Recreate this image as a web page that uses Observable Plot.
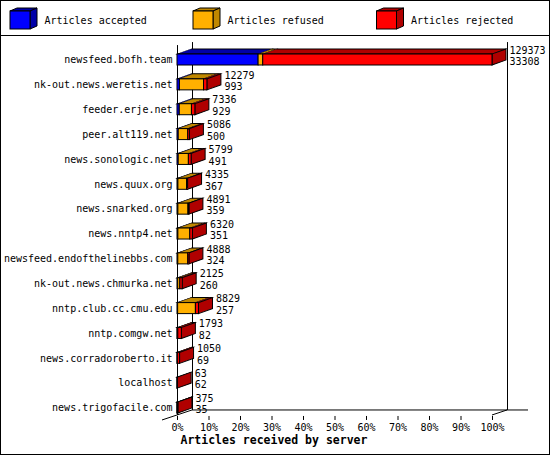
<!DOCTYPE html>
<html><head><meta charset="utf-8">
<script src="https://cdn.jsdelivr.net/npm/d3@7"></script>
<script src="https://cdn.jsdelivr.net/npm/@observablehq/plot@0.6"></script>
<style>
html,body{margin:0;padding:0;background:#fff;}
#wrap{position:relative;width:550px;height:455px;overflow:hidden;background:#fff;font-family:'DejaVu Sans Mono',monospace;}
#border{position:absolute;left:0;top:0;width:550px;height:455px;box-sizing:border-box;border:1px solid #000;pointer-events:none;}
#legend{display:block;}
#chart svg{display:block;}
</style></head><body>
<div id="wrap"><svg id="legend" width="550" height="36"></svg><div id="chart"></div><div id="border"></div></div>
<script>
// ---- data ----
const servers = ["newsfeed.bofh.team","nk-out.news.weretis.net","feeder.erje.net","peer.alt119.net","news.sonologic.net","news.quux.org","news.snarked.org","news.nntp4.net","newsfeed.endofthelinebbs.com","nk-out.news.chmurka.net","nntp.club.cc.cmu.edu","nntp.comgw.net","news.corradoroberto.it","localhost","news.trigofacile.com"];
const totals   = [129373,12279,7336,5086,5799,4335,4891,6320,4888,2125,8829,1793,1050,63,375];
const accepted = [33308,993,929,500,491,367,359,351,324,260,257,82,69,62,35];
const refused  = [1900,9900,5000,3900,4180,3550,4150,4900,4100,900,7300,250,80,0,20];
const rejected = [94165,1386,1407,686,1128,418,382,1069,464,965,1272,1461,901,1,320];
const xTicks = [0,10,20,30,40,50,60,70,80,90,100];
const seriesNames = ["Articles accepted","Articles refused","Articles rejected"];
const frontColors = ["#0000ff","#ffb000","#ff0000"];
const darkColors  = ["#0000a8","#c08800","#b00000"];
const axisTitle = "Articles received by server";

// ---- legend ----
const lg = d3.select("#legend");
const legendX = [10, 193, 376.5];
seriesNames.forEach((name, k) => {
  const x = legendX[k], y = 11, w = 20, h = 18, dx = 7, dy = 3;
  lg.append("polygon").attr("points", `${x},${y} ${x+w},${y} ${x+w+dx},${y-dy} ${x+dx},${y-dy}`)
    .attr("fill", darkColors[k]).attr("stroke", "#000");
  lg.append("polygon").attr("points", `${x+w},${y} ${x+w+dx},${y-dy} ${x+w+dx},${y+h-dy} ${x+w},${y+h}`)
    .attr("fill", darkColors[k]).attr("stroke", "#000");
  lg.append("rect").attr("x", x).attr("y", y).attr("width", w).attr("height", h)
    .attr("fill", frontColors[k]).attr("stroke", "#000");
  lg.append("text").attr("x", x + 34.5).attr("y", 21).attr("dominant-baseline", "middle")
    .attr("font-family", "'DejaVu Sans Mono', monospace").attr("font-size", 10).text(name);
});
lg.append("line").attr("x1", 0).attr("x2", 550).attr("y1", 35.5).attr("y2", 35.5).attr("stroke", "#000");

// ---- derived tables ----
const maxTotal = d3.max(totals);
const pct = v => v / maxTotal * 100;
const segments = [];
servers.forEach((s, i) => {
  const parts = [accepted[i], refused[i], rejected[i]];
  let acc = 0;
  parts.forEach((v, k) => {
    if (v > 0) segments.push({server: s, x1: pct(acc), x2: pct(acc + v), k});
    acc += v;
  });
});
const rows = servers.map((s, i) => ({server: s, total: totals[i], accepted: accepted[i], p: pct(totals[i]),
  last: rejected[i] > 0 ? 2 : (refused[i] > 0 ? 1 : 0)}));

// ---- geometry ----
const H = 419;
const bandTop = 11.07, bandBottom = 383.97;
const step = (bandBottom - bandTop) / servers.length;
const faceH = 11, depthX = 14, depthY = 5;
const inset = (step - faceH) / 2;

function floorLines(index, scales, values, dims) {
  const x = scales.x;
  const yb = dims.height - dims.marginBottom - 5;
  const x0 = x(xTicks[0]), x1 = x(xTicks[xTicks.length - 1]);
  const g = d3.create("svg:g").attr("stroke", "#000").attr("fill", "none");
  g.append("line").attr("x1", x0 + 15).attr("y1", yb - 5).attr("x2", x1 + 36).attr("y2", yb - 5);
  g.append("line").attr("x1", x0 - 15).attr("y1", yb + 5).attr("x2", x0 + 15).attr("y2", yb - 5);
  g.append("line").attr("x1", x1).attr("y1", yb).attr("x2", x1 + 15).attr("y2", yb - 5);
  return g.node();
}

const chart = Plot.plot({
  width: 550, height: H,
  marginLeft: 177, marginRight: 58, marginTop: bandTop, marginBottom: H - bandBottom,
  style: {fontFamily: "'DejaVu Sans Mono', monospace", fontSize: "10px", background: "#fff", color: "#000", overflow: "visible"},
  x: {domain: [0, 100]},
  y: {type: "band", domain: servers, padding: 0, paddingInner: 0, paddingOuter: 0, align: 0.5, round: false},
  marks: [
    Plot.ruleX([xTicks[0], xTicks[xTicks.length - 1]], {dx: 15, dy: -5, insetBottom: 5, stroke: "#000"}),
    floorLines,
    Plot.ruleX([xTicks[0]], {stroke: "#000", insetTop: -2, insetBottom: 5}),
    Plot.axisY({tickSize: 0, tickPadding: 5, label: null}),
    Plot.axisX({ticks: xTicks, tickFormat: d => d + "%", tickSize: 4, tickPadding: 3, label: null, dy: -4}),
    Plot.text([axisTitle], {frameAnchor: "bottom-left", text: d => d, dx: 3, dy: 24, textAnchor: "start", fontWeight: "bold", fontSize: 11.5}),
    Plot.barX(segments, {x1: "x1", x2: "x2", y: "server", fill: d => darkColors[d.k], stroke: "#000",
      insetTop: inset - depthY, insetBottom: step - inset}),
    Plot.barX(rows, {x1: "p", x2: "p", y: "server", fill: d => darkColors[d.last], stroke: "#000",
      insetTop: inset, insetBottom: inset, insetLeft: 0, insetRight: -depthX}),
    Plot.barX(segments, {x1: "x1", x2: "x2", y: "server", fill: d => frontColors[d.k], stroke: "#000",
      insetTop: inset, insetBottom: inset}),
    Plot.text(rows, {x: "p", y: "server", text: d => String(d.total), dx: depthX + 3, dy: -9.5, textAnchor: "start", fill: "#000"}),
    Plot.text(rows, {x: "p", y: "server", text: d => String(d.accepted), dx: depthX + 3, dy: 2, textAnchor: "start", fill: "#000"})
  ]
});

// give the top and side faces their 3-D slant (bar groups in mark order: top, side, front)
const svg = d3.select(chart);
const barGroups = svg.selectAll('g[aria-label="bar"]').nodes();
const skewXdeg = -Math.atan(depthX / depthY) * 180 / Math.PI;
const skewYdeg = -Math.atan(depthY / depthX) * 180 / Math.PI;
if (barGroups.length >= 2) {
  d3.select(barGroups[0]).selectAll("rect").each(function () {
    const y = +this.getAttribute("y"), h = +this.getAttribute("height");
    const yb = y + h;
    this.setAttribute("transform", `translate(0,${yb}) skewX(${skewXdeg}) translate(0,${-yb})`);
  });
  d3.select(barGroups[1]).selectAll("rect").each(function () {
    const x = +this.getAttribute("x");
    this.setAttribute("transform", `translate(${x},0) skewY(${skewYdeg}) translate(${-x},0)`);
  });
}
document.getElementById("chart").appendChild(chart);
</script>
</body></html>
